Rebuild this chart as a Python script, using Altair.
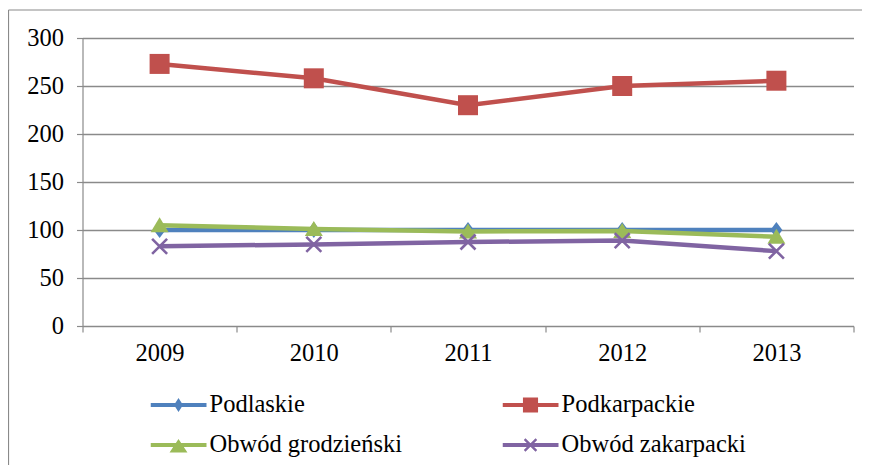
import altair as alt
import pandas as pd

years = [2009, 2010, 2011, 2012, 2013]
series_names = ["Podlaskie", "Podkarpackie", "Obwód grodzieński", "Obwód zakarpacki"]
podlaskie = [100, 100, 100, 100, 100]
podkarpackie = [273, 258, 230, 250, 255.5]
grodzienski = [105, 101, 98.5, 99, 93]
zakarpacki = [83, 85, 87.5, 89, 78]
colors = ["#4F81BD", "#C0504D", "#9BBB59", "#8064A2"]
y_ticks = [0, 50, 100, 150, 200, 250, 300]

values = [podlaskie, podkarpackie, grodzienski, zakarpacki]
rows = []
for name, vals in zip(series_names, values):
    for yr, v in zip(years, vals):
        rows.append({"year": yr, "value": v, "series": name})
df = pd.DataFrame(rows)

FONT = "Liberation Serif"
FS = 24.5
GRAY = "#8a8a8a"
W, H = 771, 288

marker_paths = [
    "M0,-0.8L0.6,0L0,0.8L-0.6,0Z",
    "M-1,-1H1V1H-1Z",
    "M0,-0.8L0.9,0.7L-0.9,0.7Z",
    "M-0.658,-0.842L0.842,0.658L0.658,0.842L-0.842,-0.658Z"
    "M-0.658,0.842L-0.842,0.658L0.658,-0.842L0.842,-0.658Z",
]
bar = "M-1,-0.075H1V0.075H-1Z"
legend_paths = [
    bar + "M0,-0.25L0.16,0L0,0.25L-0.16,0Z",
    bar + "M-0.27,-0.27H0.27V0.27H-0.27Z",
    bar + "M0,-0.21L0.32,0.27L-0.32,0.27Z",
    bar + "M-0.18,-0.24L0.24,0.18L0.18,0.24L-0.24,-0.18Z"
    "M-0.18,0.24L-0.24,0.18L0.18,-0.24L0.24,-0.18Z",
]

x_enc = alt.X(
    "year:Q",
    scale=alt.Scale(domain=[2008.5, 2013.5], nice=False, zero=False),
    axis=alt.Axis(
        title=None,
        values=[2008.5, 2009.5, 2010.5, 2011.5, 2012.5, 2013.5],
        labelExpr="datum.value > 2013 ? '' : format(datum.value + 0.5, 'd')",
        labelOffset=W / 10,
        labelFlush=False,
        labelOverlap=False,
        labelBound=False,
        grid=False,
        tickSize=6,
        tickColor=GRAY,
        domainColor=GRAY,
        domainWidth=1.2,
        tickWidth=1.2,
        labelFont=FONT,
        labelFontSize=FS,
        labelColor="black",
        labelPadding=9,
    ),
)
y_enc = alt.Y(
    "value:Q",
    scale=alt.Scale(domain=[0, 300], nice=False),
    axis=alt.Axis(
        title=None,
        values=y_ticks,
        grid=True,
        gridColor=GRAY,
        gridWidth=1.3,
        tickSize=6,
        tickColor=GRAY,
        tickWidth=1.2,
        domainColor=GRAY,
        domainWidth=1.2,
        labelFont=FONT,
        labelFontSize=FS,
        labelColor="black",
        labelPadding=13,
    ),
)

color_scale = alt.Scale(domain=series_names, range=colors)
base = alt.Chart(df)

layers = []
for s in series_names:
    sub = base.transform_filter(alt.datum.series == s)
    line = sub.mark_line(strokeWidth=4.5).encode(
        x=x_enc, y=y_enc,
        color=alt.Color("series:N", scale=color_scale, legend=None),
    )
    pts = sub.mark_point(filled=True, size=400, opacity=1, strokeWidth=0).encode(
        x=x_enc, y=y_enc,
        color=alt.Color("series:N", scale=color_scale, legend=None),
        shape=alt.Shape("series:N", scale=alt.Scale(domain=series_names, range=marker_paths), legend=None),
    )
    layers += [line, pts]

legend_opts = dict(
    title=None, orient="none", legendX=68, legendY=352, columns=2,
    direction="horizontal",
    symbolSize=3136, clipHeight=30, rowPadding=10, columnPadding=100,
    labelFont=FONT, labelFontSize=FS, labelColor="black", labelOffset=3,
    labelLimit=400, symbolStrokeWidth=0, symbolOpacity=1,
)
legend_layer = base.transform_filter("false").mark_point(
    filled=True, size=3136, opacity=1, strokeWidth=0
).encode(
    color=alt.Color(
        "series:N",
        scale=alt.Scale(domain=series_names, range=colors),
        legend=alt.Legend(**legend_opts),
    ),
    shape=alt.Shape(
        "series:N",
        scale=alt.Scale(domain=series_names, range=legend_paths),
        legend=alt.Legend(**legend_opts),
    ),
)

frame_df = pd.DataFrame({"k": [0]})
frame_v = alt.Chart(frame_df).mark_rule(color=GRAY, strokeWidth=1.2).encode(
    x=alt.value(-74), y=alt.value(-28), y2=alt.value(440)
)
frame_h = alt.Chart(frame_df).mark_rule(color=GRAY, strokeWidth=1.2).encode(
    x=alt.value(-74), x2=alt.value(790), y=alt.value(-28)
)

chart = alt.layer(frame_v, frame_h, *layers, legend_layer).resolve_scale(
    color="independent", shape="independent"
).properties(
    width=W, height=H,
    padding={"left": 74.5, "top": 30, "right": 8.5, "bottom": 139},
    autosize=alt.AutoSizeParams(type="none"),
    background="white",
).configure_view(stroke=None)

chart.save("out.html", embed_options={"renderer": "svg", "actions": False})
